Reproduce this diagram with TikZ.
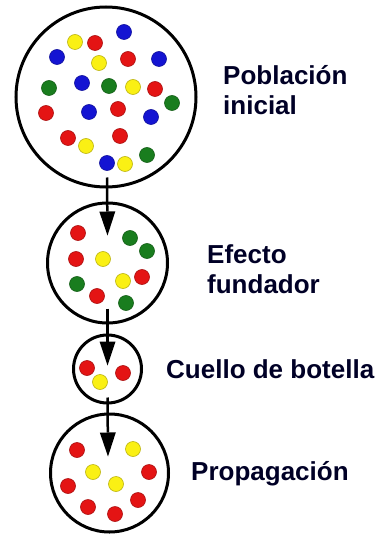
\documentclass[tikz,border=0pt]{standalone}
\usepackage{fontspec}
\newfontfamily\etiqfont{Liberation Sans}
\usetikzlibrary{arrows.meta}

\definecolor{rojo}{RGB}{228,20,20}
\definecolor{azul}{RGB}{20,20,210}
\definecolor{verde}{RGB}{25,125,30}
\definecolor{amarillo}{RGB}{250,240,20}

\tikzset{
  poblacion/.style={draw=black, line width=3pt, circle, inner sep=0pt},
  etiqueta/.style={anchor=base west, align=left, inner sep=0pt,
    font=\etiqfont\bfseries\fontsize{26}{30}\selectfont, text=black!85!blue},
  flecha/.style={line width=2.5pt, -{Triangle[width=16pt,length=24pt,line width=0pt]}},
  gen/.style={draw=#1!75!black, line width=0.6pt, fill=#1}
}

\begin{document}
\begin{tikzpicture}[x=1pt, y=-1pt]
            \useasboundingbox (0,0) rectangle (385,537);
            % las cuatro poblaciones
            \node[poblacion, minimum size=180pt] (inicial) at (106,97) {};
            \node[poblacion, minimum size=120pt] (fundador) at (107.5,263) {};
            \node[poblacion, minimum size=68pt] (cuello) at (107.5,369) {};
            \node[poblacion, minimum size=118pt] (propag) at (109.5,473) {};
            % alelos
            \foreach \x/\y in {124/32, 57/57, 159/59, 82/83, 89/112, 151/117, 107/163}
              \filldraw[gen=azul] (\x,\y) circle (7.5pt);
            \foreach \x/\y in {95/43, 128/59, 155/89, 46/113, 118/109, 68/138, 120/136,
                               78/233, 76/259, 142/277, 97/296,
                               87/368, 123/373,
                               77/450, 149/472, 68/486, 138/500, 88/507, 115/514}
              \filldraw[gen=rojo] (\x,\y) circle (7.5pt);
            \foreach \x/\y in {49/88, 109/86, 172/103, 147/155,
                               130/238, 147/251, 77/284, 126/303}
              \filldraw[gen=verde] (\x,\y) circle (7.5pt);
            \foreach \x/\y in {75/42, 99/63, 133/87, 86/146, 125/164,
                               103/259, 123/281,
                               100/382,
                               133/449, 93/472, 116/484}
              \filldraw[gen=amarillo] (\x,\y) circle (7.5pt);
            % flechas
            \draw[flecha] ([xshift=1pt, yshift=11pt]inicial.south) -- ([yshift=-34pt]fundador.north);
            \draw[flecha] ([yshift=16pt]fundador.south) -- ([yshift=-32pt]cuello.north);
            \draw[flecha] ([yshift=7pt]cuello.south) -- ([xshift=-1.5pt, yshift=-44pt]propag.north);
            % etiquetas (la base es la de la ultima linea)
            \node[etiqueta] (etinicial) at (223,115) {Población\\inicial};
            \node[etiqueta] (etfundador) at (207,293) {Efecto\\fundador};
            \node[etiqueta] (etcuello) at (166,378) {Cuello de botella};
            \node[etiqueta] (etpropag) at (191,480) {Propagación};
\end{tikzpicture}
\end{document}
